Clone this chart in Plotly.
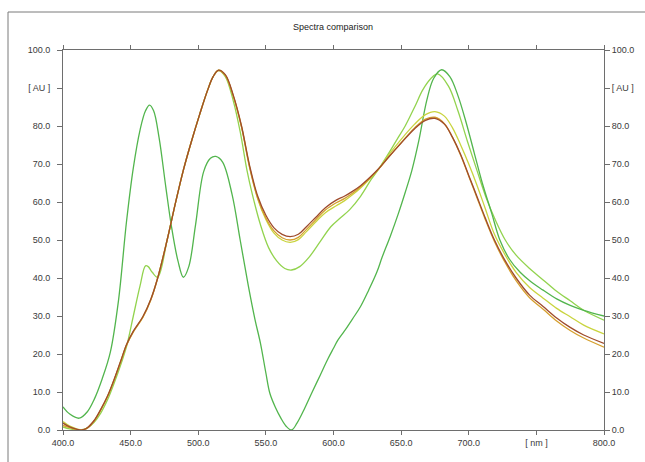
import plotly.graph_objects as go

# ---------------- data ----------------
x_tick_vals = [400, 450, 500, 550, 600, 650, 700, 750, 800]
x_tick_text = ["400.0", "450.0", "500.0", "550.0", "600.0", "650.0", "700.0", "[ nm ]", "800.0"]
y_tick_vals = [0, 10, 20, 30, 40, 50, 60, 70, 80, 90, 100]
y_tick_text = ["0.0", "10.0", "20.0", "30.0", "40.0", "50.0", "60.0", "70.0", "80.0", "[ AU ]", "100.0"]

# Series E (green, two blue-region peaks)
wl_e = [400, 405, 412, 418, 423, 429, 435, 441, 447, 452, 457, 461, 464, 467, 471, 476, 480, 485, 489,
        493, 498, 504, 509, 513, 518, 525, 531, 537, 542, 546, 550, 553, 557, 561, 565, 569, 573, 578,
        584, 590, 596, 600, 603, 608, 614, 620, 626, 632, 636, 642, 648, 653, 658, 663, 669, 674, 680,
        686, 692, 698, 704, 710, 717, 723, 730, 738, 746, 755, 765, 775, 785, 800]
val_e = [6.1, 4.2, 3.1, 4.8, 8.0, 13.5, 20.5, 34.0, 55.0, 69.0, 79.0, 84.0, 85.5, 84.0, 77.0, 64.0, 54.0, 44.5, 40.2,
         43.0, 54.0, 68.0, 71.5, 72.0, 70.5, 62.0, 50.0, 38.0, 29.0, 22.8, 15.0, 9.6, 6.0, 3.2, 1.0, 0.0, 1.8, 5.2,
         9.8, 14.3, 18.8, 21.5, 23.5, 26.0, 29.2, 32.5, 36.8, 41.5, 45.5, 51.0, 57.0, 62.5, 68.4, 76.0, 86.8, 92.5, 94.8,
         93.0, 88.0, 81.0, 73.0, 65.0, 57.0, 50.0, 45.0, 41.5, 39.0, 36.8, 34.5, 32.8, 31.5, 30.0]

# Series D (light green, small shoulder near 460 nm)
wl_d = [400, 405, 412, 418, 423, 428, 433, 438, 443, 447, 452, 457, 461, 463, 466, 470, 477, 483, 489,
        495, 501, 507, 511, 515, 520, 526, 531, 536, 540, 546, 552, 558, 564, 569, 575, 582, 590, 598, 605,
        612, 620, 628, 634, 642, 647, 653, 660, 666, 672, 677, 685, 692, 699, 706, 713, 720, 727, 735, 745,
        755, 765, 775, 785, 800]
val_d = [0.8, 0.3, 0.0, 0.5, 2.0, 4.5, 8.0, 12.5, 17.5, 22.0, 30.0, 38.0, 43.2, 43.0, 41.5, 40.2, 50.0, 59.5, 68.4,
         76.0, 83.0, 89.5, 93.0, 94.6, 93.0, 86.5, 78.5, 68.4, 62.0, 54.0, 48.0, 44.5, 42.5, 42.1, 43.0, 45.5, 49.5, 53.5, 55.8,
         58.0, 61.5, 66.0, 69.0, 73.5, 76.5, 80.0, 85.0, 89.5, 92.5, 93.7, 90.5, 84.0, 76.0, 68.4, 61.0, 55.0, 50.0, 46.0, 42.5,
         39.5, 36.5, 34.0, 31.5, 28.9]

# Common wavelengths for series A, B, C (close together)
wl_abc = [400, 405, 410, 414, 418, 423, 428, 433, 438, 443, 447, 452, 459, 465, 470, 477, 483, 489, 495,
          501, 507, 511, 515, 520, 526, 532, 538, 544, 550, 556, 562, 568, 574, 580, 587, 594, 602, 608,
          614, 620, 627, 634, 640, 650, 660, 668, 675, 682, 688, 694, 700, 706, 712, 719, 727, 735, 745,
          755, 765, 775, 785, 800]
# Series A (brown)
val_a = [1.8, 0.8, 0.2, 0.0, 0.6, 2.5, 5.5, 9.0, 13.5, 18.5, 22.5, 26.0, 29.8, 34.5, 40.0, 50.0, 59.5, 68.4, 76.0,
         83.0, 89.5, 93.0, 94.7, 93.5, 88.0, 80.0, 69.5, 61.5, 56.5, 53.2, 51.5, 50.9, 51.5, 53.5, 56.0, 58.5, 60.5, 61.5,
         62.8, 64.3, 66.5, 69.0, 71.5, 75.5, 79.3, 81.5, 82.0, 80.5, 77.0, 72.5, 67.0, 61.5, 56.0, 50.0, 44.5, 40.0, 35.5,
         32.5, 29.5, 27.0, 25.0, 22.8]
# Series B (orange)
val_b = [1.2, 0.6, 0.1, 0.0, 0.5, 2.3, 5.3, 8.8, 13.3, 18.3, 22.3, 25.8, 29.6, 34.3, 40.0, 50.0, 59.5, 68.4, 76.0,
         83.0, 89.5, 93.0, 94.6, 93.3, 87.7, 79.7, 69.0, 61.0, 55.8, 52.4, 50.6, 50.0, 50.7, 52.8, 55.4, 57.9, 59.8, 60.9,
         62.3, 64.0, 66.3, 68.9, 71.5, 75.6, 79.5, 81.8, 82.3, 80.6, 77.0, 72.3, 66.8, 61.2, 55.6, 49.6, 44.0, 39.3, 34.8,
         31.8, 28.7, 26.2, 24.2, 21.8]
# Series C (yellow-green)
val_c = [2.2, 1.0, 0.3, 0.0, 0.6, 2.4, 5.4, 8.9, 13.4, 18.4, 22.4, 25.9, 29.7, 34.4, 40.0, 50.0, 59.5, 68.4, 76.0,
         83.0, 89.5, 93.0, 94.7, 93.4, 87.8, 79.8, 69.2, 60.8, 55.4, 51.8, 50.0, 49.4, 50.1, 52.2, 54.8, 57.2, 59.0, 60.3,
         61.9, 63.7, 66.2, 69.0, 72.0, 76.5, 80.5, 83.0, 83.8, 82.6, 79.5, 75.0, 70.0, 64.5, 58.5, 51.5, 46.0, 41.5, 37.5,
         34.7, 32.0, 29.8, 27.6, 25.3]

colors = {
    "D": "#92d34e",
    "E": "#52b54d",
    "C": "#c9d43e",
    "B": "#d6a02e",
    "A": "#9e4b2c",
}

# ---------------- figure ----------------
fig = go.Figure()
line_w = 1.3
for wl, vals, key in [(wl_d, val_d, "D"), (wl_e, val_e, "E"), (wl_abc, val_c, "C"),
                      (wl_abc, val_b, "B"), (wl_abc, val_a, "A")]:
    fig.add_trace(go.Scatter(x=wl, y=vals, mode="lines",
                             line=dict(color=colors[key], width=line_w, shape="spline", smoothing=1.0),
                             showlegend=False, hoverinfo="skip"))

# empty trace so the right axis is drawn
fig.add_trace(go.Scatter(x=[], y=[], yaxis="y2", showlegend=False))

W, H = 645, 462
L, R, T, B = 63, 41, 50, 32
pw, ph = W - L - R, H - T - B

def px_to_paper_x(px):
    return (px - L) / pw

def px_to_paper_y(py):
    return (H - B - py) / ph

axis_font = dict(family="Liberation Sans, Arial, sans-serif", size=9, color="#3a3a3a")
axis_line = "#6e6e6e"

fig.update_layout(
    width=W, height=H,
    margin=dict(l=L, r=R, t=T, b=B),
    paper_bgcolor="white", plot_bgcolor="white",
    title=dict(text="Spectra comparison", x=px_to_paper_x(333), xref="paper", xanchor="center",
               y=1 - 27 / H, yanchor="middle",
               font=dict(family="Liberation Sans, Arial, sans-serif", size=9, color="#222222")),
    xaxis=dict(range=[400, 800], tickvals=x_tick_vals, ticktext=x_tick_text,
               showgrid=False, zeroline=False, showline=True, linecolor=axis_line, linewidth=1,
               mirror="allticks", ticks="outside", ticklen=4, tickcolor=axis_line,
               tickfont=axis_font),
    yaxis=dict(range=[0, 100], tickvals=y_tick_vals, ticktext=y_tick_text,
               showgrid=False, zeroline=False, showline=True, linecolor=axis_line, linewidth=1,
               ticks="outside", ticklen=5, tickcolor=axis_line, tickfont=axis_font,
               ticklabelstandoff=5),
    yaxis2=dict(range=[0, 100], tickvals=y_tick_vals, ticktext=y_tick_text, overlaying="y", side="right",
                showgrid=False, zeroline=False, showline=True, linecolor=axis_line, linewidth=1,
                ticks="outside", ticklen=5, tickcolor=axis_line, tickfont=axis_font),
    shapes=[
        dict(type="line", xref="paper", yref="paper",
             x0=px_to_paper_x(8), x1=px_to_paper_x(8), y0=px_to_paper_y(12), y1=px_to_paper_y(480),
             line=dict(color="#7a7a7a", width=1)),
        dict(type="line", xref="paper", yref="paper",
             x0=px_to_paper_x(8), x1=px_to_paper_x(660), y0=px_to_paper_y(12), y1=px_to_paper_y(12),
             line=dict(color="#7a7a7a", width=1)),
    ],
)

fig.write_html("out.html")
